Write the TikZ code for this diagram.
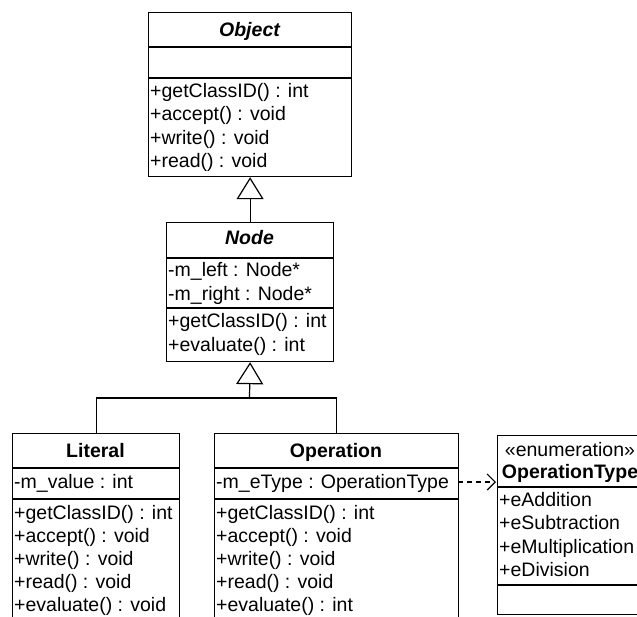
\documentclass[tikz,border=0pt]{standalone}
\usepackage{fontspec}
\setmainfont{Liberation Sans}
\usetikzlibrary{arrows.meta}

\newcommand{\umlfont}{\fontsize{19.5}{23}\selectfont}

\tikzset{
  umlbox/.style={draw, line width=1.2pt, rectangle, inner sep=0pt,
                 anchor=north west, fill=white},
  sep/.style={line width=1.2pt},
  member/.style={anchor=base west, inner sep=0pt, font=\umlfont},
  cname/.style={anchor=base, inner sep=0pt, font=\umlfont\bfseries},
  aname/.style={anchor=base, inner sep=0pt, font=\umlfont\bfseries\itshape},
  stereo/.style={anchor=base, inner sep=0pt, font=\umlfont},
  link/.style={line width=1.2pt},
  inherit/.style={link, -{Triangle[open, length=22pt, width=27pt]}},
  depend/.style={link, dash pattern=on 5pt off 4pt,
                 -{Straight Barb[length=8pt, width=16pt]}}
}

\begin{document}
\begin{tikzpicture}[x=1pt, y=-1pt]
  \useasboundingbox (0,0) rectangle (637,616);
  \clip (0,0) rectangle (637,616);
  \fill[white] (0,0) rectangle (637,616);

  % ---- Object ----
  \node[umlbox, minimum width=203pt, minimum height=164pt] (obj) at (148,12) {};
  \draw[sep] (148,47) -- (351,47);
  \draw[sep] (148,78) -- (351,78);
  \node[aname] (objT) at (249.5,36) {Object};
  \node[member] (objO1) at (150,97)    {+getClassID() : int};
  \node[member] (objO2) at (150,120.5) {+accept() : void};
  \node[member] (objO3) at (150,144)   {+write() : void};
  \node[member] (objO4) at (150,167.5) {+read() : void};

  % ---- Node ----
  \node[umlbox, minimum width=167pt, minimum height=139pt] (nd) at (166,222) {};
  \draw[sep] (166,258) -- (333,258);
  \draw[sep] (166,308) -- (333,308);
  \node[aname] (ndT) at (249.5,244) {Node};
  \node[member] (ndA1) at (168,276) {-m\_left : Node*};
  \node[member] (ndA2) at (168,300) {-m\_right : Node*};
  \node[member] (ndO1) at (168,327) {+getClassID() : int};
  \node[member] (ndO2) at (168,351) {+evaluate() : int};

  % ---- Literal ----
  \node[umlbox, minimum width=167pt, minimum height=200pt] (lit) at (12,433) {};
  \draw[sep] (12,468) -- (179,468);
  \draw[sep] (12,499) -- (179,499);
  \node[cname] (litT) at (95.5,457) {Literal};
  \node[member] (litA1) at (14,488) {-m\_value : int};
  \node[member] (litO1) at (14,519) {+getClassID() : int};
  \node[member] (litO2) at (14,542) {+accept() : void};
  \node[member] (litO3) at (14,565) {+write() : void};
  \node[member] (litO4) at (14,588) {+read() : void};
  \node[member] (litO5) at (14,611) {+evaluate() : void};

  % ---- Operation ----
  \node[umlbox, minimum width=244pt, minimum height=200pt] (op) at (214,433) {};
  \draw[sep] (214,468) -- (458,468);
  \draw[sep] (214,499) -- (458,499);
  \node[cname] (opT) at (336,457) {Operation};
  \node[member] (opA1) at (216,488) {-m\_eType : OperationType};
  \node[member] (opO1) at (216,519) {+getClassID() : int};
  \node[member] (opO2) at (216,542) {+accept() : void};
  \node[member] (opO3) at (216,565) {+write() : void};
  \node[member] (opO4) at (216,588) {+read() : void};
  \node[member] (opO5) at (216,611) {+evaluate() : int};

  % ---- OperationType (enumeration) ----
  \node[umlbox, minimum width=146pt, minimum height=179pt] (en) at (497,435) {};
  \draw[sep] (497,487) -- (643,487);
  \draw[sep] (497,585) -- (643,585);
  \node[stereo] (enS) at (570,456) {«enumeration»};
  \node[cname] (enT) at (570,478) {OperationType};
  \node[member] (enL1) at (499,506)   {+eAddition};
  \node[member] (enL2) at (499,529.5) {+eSubtraction};
  \node[member] (enL3) at (499,553)   {+eMultiplication};
  \node[member] (enL4) at (499,576)   {+eDivision};

  % ---- generalisations ----
  \draw[inherit] (nd.north) -- (obj.south);
  \coordinate (join) at (249.5,398);
  \draw[link] (lit.north) |- (join) -| (op.north);
  \draw[inherit] (join) -- (nd.south);

  % ---- dependency ----
  \coordinate (depS) at (458,482);
  \coordinate (depE) at (496,482);
  \draw[depend] (depS) -- (depE);
\end{tikzpicture}
\end{document}
